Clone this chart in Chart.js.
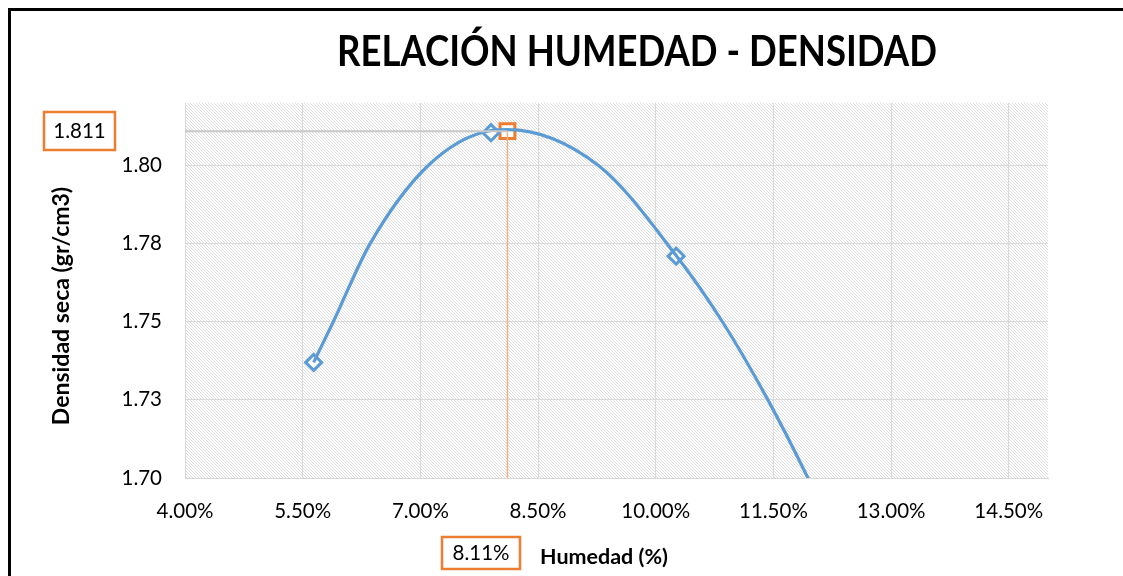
<!DOCTYPE html>
<html>
<head>
<meta charset="utf-8">
<script src="https://cdn.jsdelivr.net/npm/chart.js@4"></script>
<style>
  html, body { margin: 0; padding: 0; background: #fff; }
  #wrap { width: 1123px; height: 576px; position: relative; }
</style>
</head>
<body>
<div id="wrap"><canvas id="chart" width="1123" height="576"></canvas></div>
<script>
// measured points (humedad %, densidad seca)
const humedad = [5.64, 7.90, 10.26]
const densidad = [1.737, 1.8105, 1.771]

// curva de ajuste
const curvaX = [5.64, 5.89, 6.36, 7.10, 7.90, 8.11, 9.27, 10.26, 10.85, 11.43, 11.94, 12.20]
const curvaY = [1.737, 1.750, 1.775, 1.800, 1.8112, 1.8115, 1.800, 1.7712, 1.750, 1.725, 1.700, 1.686]

// optimo
const humedadOptima = 8.11
const densidadMaxima = 1.811

const xTickValues = [4.0, 5.5, 7.0, 8.5, 10.0, 11.5, 13.0, 14.5]
const xTickLabels = ['4.00%', '5.50%', '7.00%', '8.50%', '10.00%', '11.50%', '13.00%', '14.50%']
const yTickValues = [1.70, 1.725, 1.75, 1.775, 1.80]
const yTickLabels = ['1.70', '1.73', '1.75', '1.78', '1.80']

const FONT = 'Lato'

function hatchPattern(ctx) {
  const c = document.createElement('canvas')
  c.width = 6
  c.height = 6
  const g = c.getContext('2d')
  g.fillStyle = '#ffffff'
  g.fillRect(0, 0, 6, 6)
  g.fillStyle = '#dedede'
  for (let y = 0; y < 6; y++) {
    for (let x = 0; x < 6; x++) {
      const d = ((x - y) % 6 + 6) % 6
      if ((d === 0 || d === 1) && (x + y) % 2 === 0) g.fillRect(x, y, 1, 1)
      if (d === 3 && (x + y) % 2 === 1) g.fillRect(x, y, 1, 1)
    }
  }
  return ctx.createPattern(c, 'repeat')
}

const backgroundPlugin = {
  id: 'hatch',
  beforeDraw(chart) {
    const { ctx, chartArea: a } = chart
    ctx.save()
    ctx.fillStyle = '#fff'
    ctx.fillRect(0, 0, chart.width, chart.height)
    ctx.fillStyle = hatchPattern(ctx)
    ctx.fillRect(a.left, a.top, a.right - a.left, a.bottom - a.top)
    ctx.restore()
  }
}

const textPlugin = {
  id: 'textos',
  afterDraw(chart) {
    const ctx = chart.ctx
    ctx.save()
    // marco
    ctx.strokeStyle = '#000'
    ctx.lineWidth = 3
    ctx.beginPath()
    ctx.moveTo(9.5, 600)
    ctx.lineTo(9.5, 9.5)
    ctx.lineTo(1130, 9.5)
    ctx.stroke()

    // titulo
    ctx.fillStyle = '#000'
    ctx.textAlign = 'center'
    ctx.textBaseline = 'alphabetic'
    ctx.font = 'bold 42px ' + FONT
    const w = ctx.measureText('RELACIÓN HUMEDAD - DENSIDAD').width
    ctx.save()
    ctx.translate(637, 66)
    ctx.scale(600 / w, 1)
    ctx.fillText('RELACIÓN HUMEDAD - DENSIDAD', 0, 0)
    ctx.restore()

    // titulos de ejes
    ctx.textBaseline = 'middle'
    ctx.font = 'bold 21.5px ' + FONT
    ctx.fillText('Humedad (%)', 604, 557)
    ctx.font = 'bold 23px ' + FONT
    ctx.save()
    ctx.translate(62, 306)
    ctx.rotate(-Math.PI / 2)
    ctx.fillText('Densidad seca (gr/cm3)', 0, 0)
    ctx.restore()

    // etiquetas del optimo
    ctx.font = '20.5px ' + FONT
    ctx.strokeStyle = '#ed7d31'
    ctx.lineWidth = 2.5
    ctx.strokeRect(44, 112, 71, 38)
    ctx.fillText(densidadMaxima.toFixed(3), 79.5, 131.5)
    ctx.strokeRect(442, 537, 78, 32)
    ctx.fillText(humedadOptima.toFixed(2) + '%', 481, 553.5)
    ctx.restore()
  }
}

const ctx = document.getElementById('chart').getContext('2d')

new Chart(ctx, {
  type: 'scatter',
  data: {
    datasets: [
      {
        label: 'guia horizontal',
        data: [{ x: 4, y: densidadMaxima }, { x: humedadOptima, y: densidadMaxima }],
        showLine: true,
        borderColor: '#c8c8c8',
        borderWidth: 2,
        pointRadius: 0
      },
      {
        label: 'guia vertical',
        data: [{ x: humedadOptima, y: 1.70 }, { x: humedadOptima, y: densidadMaxima }],
        showLine: true,
        borderColor: '#f4b183',
        borderWidth: 1.5,
        pointRadius: 0
      },
      {
        label: 'curva',
        data: curvaX.map((x, i) => ({ x: x, y: curvaY[i] })),
        showLine: true,
        borderColor: '#5b9bd5',
        borderWidth: 3.2,
        cubicInterpolationMode: 'monotone',
        pointRadius: 0
      },
      {
        label: 'ensayos',
        data: humedad.map((x, i) => ({ x: x, y: densidad[i] })),
        showLine: false,
        pointStyle: 'rectRot',
        pointRadius: 8,
        pointBorderWidth: 3,
        pointBorderColor: '#5b9bd5',
        pointBackgroundColor: '#ffffff'
      },
      {
        label: 'optimo',
        data: [{ x: humedadOptima, y: densidadMaxima }],
        showLine: false,
        pointStyle: 'rect',
        pointRadius: 10.5,
        pointBorderWidth: 3,
        pointBorderColor: '#ed7d31',
        pointBackgroundColor: '#ffffff'
      }
    ]
  },
  options: {
    responsive: false,
    animation: false,
    layout: { padding: { left: 0, top: 103, right: 75, bottom: 0 } },
    plugins: {
      legend: { display: false },
      tooltip: { enabled: false },
      title: { display: false }
    },
    scales: {
      x: {
        type: 'linear',
        min: 4,
        max: 15,
        afterFit: scale => { scale.height = 98 },
        afterBuildTicks: scale => { scale.ticks = xTickValues.map(v => ({ value: v })) },
        grid: { color: '#d9d9d9', lineWidth: 1, drawTicks: false },
        border: { display: true, color: '#d9d9d9', width: 1 },
        ticks: {
          padding: 21,
          color: '#000',
          font: { family: FONT, size: 20.5 },
          maxRotation: 0,
          autoSkip: false,
          callback: (v, i) => xTickLabels[i]
        }
      },
      y: {
        type: 'linear',
        min: 1.70,
        max: 1.82,
        afterFit: scale => { scale.width = 185 },
        afterBuildTicks: scale => { scale.ticks = yTickValues.map(v => ({ value: v })) },
        grid: { color: '#d9d9d9', lineWidth: 1, drawTicks: false },
        border: { display: true, color: '#d9d9d9', width: 1 },
        ticks: {
          padding: 23,
          color: '#000',
          font: { family: FONT, size: 20.5 },
          autoSkip: false,
          callback: (v, i) => yTickLabels[i]
        }
      }
    }
  },
  plugins: [backgroundPlugin, textPlugin]
})
</script>
</body>
</html>
